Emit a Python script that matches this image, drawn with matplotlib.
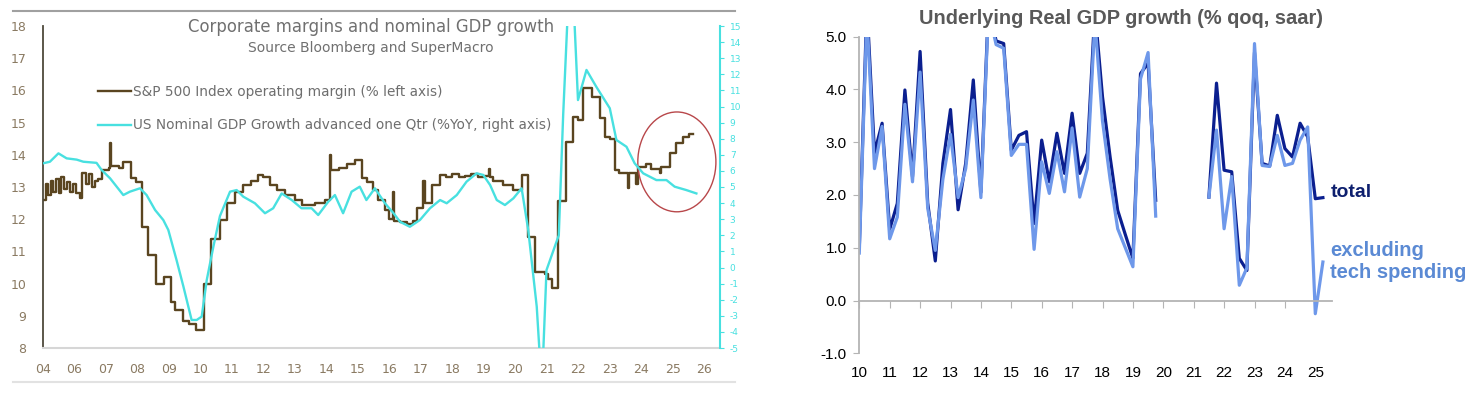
import numpy as np
import matplotlib
matplotlib.use('Agg')
import matplotlib.pyplot as plt
from matplotlib.patches import Ellipse
from matplotlib.lines import Line2D

plt.rcParams['axes.unicode_minus'] = False

# Left chart: S&P 500 operating margin (left axis) vs nominal GDP growth (right axis)
year_labels = ['04', '06', '07', '08', '09', '10', '11', '12', '13', '14', '15',
               '16', '17', '18', '19', '20', '21', '22', '23', '24', '25', '26']

margin_t = [0.00, 0.08, 0.16, 0.25, 0.33, 0.42, 0.50, 0.58, 0.67, 0.75, 0.85, 0.95,
            1.05, 1.17, 1.25, 1.35, 1.45, 1.55, 1.65, 1.75, 1.86, 2.10, 2.13, 2.17,
            2.40, 2.55, 2.81, 2.95, 3.13, 3.35, 3.58, 3.85, 4.08, 4.20, 4.45, 4.65,
            4.85, 5.10, 5.35, 5.62, 5.85, 6.10, 6.36, 6.60, 6.84, 7.00, 7.20, 7.42,
            7.68, 8.00, 8.21, 8.63, 8.95, 9.11, 9.14, 9.40, 9.65, 9.90, 10.12, 10.30,
            10.49, 10.65, 10.86, 11.00, 11.12, 11.16, 11.33, 11.55, 11.76, 11.87, 12.08,
            12.12, 12.34, 12.60, 12.80, 13.00, 13.20, 13.40, 13.60, 13.80, 14.00, 14.15,
            14.20, 14.30, 14.60, 14.94, 15.20, 15.41, 15.62, 15.94, 16.05, 16.15, 16.35,
            16.62, 16.83, 17.00, 17.15, 17.42, 17.68, 17.84, 18.00, 18.16, 18.30, 18.58,
            18.62, 18.84, 18.88, 19.16, 19.30, 19.58, 19.64, 19.90, 20.11, 20.33, 20.50,
            20.64]
margin_pct = [12.6, 13.1, 12.75, 13.2, 12.85, 13.25, 12.8, 13.3, 12.95, 13.15, 12.85, 13.1,
              12.8, 12.65, 13.45, 13.1, 13.4, 13.0, 13.2, 13.25, 13.53, 13.6, 14.36, 13.65,
              13.6, 13.78, 13.27, 13.15, 11.77, 10.89, 10.0, 10.2, 9.44, 9.18, 8.85, 8.75,
              8.56, 10.0, 11.4, 11.97, 12.5, 12.85, 13.06, 13.2, 13.37, 13.3, 13.06, 12.9,
              12.75, 12.6, 12.44, 12.5, 12.6, 14.0, 13.53, 13.6, 13.7, 13.84, 13.27, 13.15,
              12.9, 12.6, 12.3, 12.0, 12.85, 11.95, 11.9, 11.85, 11.95, 12.34, 13.2,
              12.5, 13.06, 13.37, 13.3, 13.4, 13.3, 13.35, 13.4, 13.3, 13.35, 13.56,
              13.3, 13.2, 13.06, 12.9, 13.37, 11.46, 10.37, 10.3, 10.15, 9.87, 12.55,
              14.4, 15.18, 15.07, 16.06, 15.8, 15.14, 14.56, 14.5, 13.53, 13.43, 12.97,
              13.43, 13.1, 13.63, 13.7, 13.55, 13.43, 13.63, 14.05, 14.37, 14.56, 14.65,
              14.65]

# nominal GDP growth advanced one quarter (% YoY)
gdp_t = [0.0, 0.22, 0.49, 0.75, 1.07, 1.28, 1.7, 1.86, 2.13, 2.55, 2.76, 3.08, 3.29,
         3.56, 3.82, 3.98, 4.24, 4.46, 4.72, 4.88, 5.04, 5.2, 5.41, 5.62, 5.94, 6.15,
         6.36, 6.73, 7.05, 7.31, 7.58, 7.9, 8.21, 8.53, 8.74, 9.06, 9.27, 9.53, 9.8,
         10.06, 10.27, 10.54, 10.86, 11.12, 11.34, 11.65, 11.97, 12.29, 12.61, 12.82,
         13.14, 13.45, 13.77, 13.98, 14.2, 14.41, 14.67, 14.94, 15.2, 15.41, 15.68,
         15.78, 15.88, 15.99, 16.38, 16.52, 16.68, 16.85, 16.99, 17.26, 17.57, 18.0,
         18.21, 18.53, 18.79, 19.06, 19.48, 19.8, 20.06, 20.43, 20.75]
gdp_yoy = [6.47, 6.57, 7.09, 6.78, 6.7, 6.57, 6.5, 6.06, 5.54, 4.5, 4.71, 4.92, 4.5,
           3.57, 2.95, 2.33, 0.47, -1.19, -3.26, -3.26, -3.05, -0.78, 1.29, 3.2, 4.71, 4.81,
           4.4, 3.99, 3.37, 3.68, 4.6, 4.19, 3.68, 3.68, 3.26, 4.09, 4.5, 3.37, 4.71,
           5.02, 4.19, 4.92, 3.99, 3.4, 2.84, 2.53, 2.95, 3.68, 4.19, 3.99,
           4.5, 5.33, 5.85, 5.75, 5.12, 4.19, 3.88, 4.3, 4.92, 2.33, -2.43,
           -5.6, -5.6, -0.16, 2.0, 9.5, 16.5, 16.5, 10.4, 12.27, 11.23, 9.89,
           7.92, 7.5, 6.47, 5.85, 5.43, 5.43, 5.02, 4.81, 4.6]

# Right chart: underlying real GDP growth (% qoq saar), 2010Q1 to 2025Q2
quarters = np.arange(2010, 2025.26, 0.25)
nan = np.nan
gdp_total = [1.0, 5.6, 2.8, 3.36, 1.35, 1.84, 3.99, 2.35, 4.72, 1.85, 0.75, 2.6, 3.62,
             1.72, 2.6, 4.18, 2.05, 5.6, 4.92, 4.87, 2.85, 3.13, 3.2, 1.46, 3.04, 2.25,
             3.17, 2.41, 3.55, 2.41, 2.79, 5.5, 3.86, 2.72, 1.71, 1.25, 0.8, 4.3, 4.5,
             1.9, nan, nan, nan, nan, nan, nan, 1.96, 4.12, 2.47, 2.44, 0.8, 0.57, 4.7,
             2.6, 2.55, 3.51, 2.88, 2.72, 3.36, 3.1, 1.93, 1.95]
gdp_ex_tech = [0.9, 5.4, 2.5, 3.3, 1.17, 1.58, 3.72, 2.25, 4.33, 1.75, 0.95, 2.3, 3.15,
               1.95, 2.5, 3.8, 1.95, 5.5, 4.85, 4.78, 2.75, 2.96, 2.96, 0.97, 2.63, 2.03,
               2.82, 2.06, 3.27, 1.96, 2.5, 5.3, 3.4, 2.3, 1.36, 1.0, 0.64, 4.2, 4.7,
               1.6, nan, nan, nan, nan, nan, nan, 1.96, 3.23, 1.36, 2.35, 0.29, 0.62, 4.87,
               2.56, 2.54, 3.13, 2.56, 2.6, 3.04, 3.29, -0.25, 0.73]
year_ticks = list(range(2010, 2026))

W, H = 1475, 395
fig = plt.figure(figsize=(W / 100, H / 100), dpi=100)

brown = '#5a4520'
cyan = '#48e0e0'
tick_brown = '#8a7a62'
grey_text = '#6e6e6e'

# ---------- left chart ----------
ax = fig.add_axes([43 / W, 47 / H, 677 / W, 322 / H])
ax.step(margin_t, margin_pct, where='post', color=brown, lw=1.7, label='S&P 500 Index operating margin (% left axis)')
ax.set_xlim(0, 21.5)
ax.set_ylim(8, 18)
ax.set_yticks(range(8, 19))
ax.set_xticks(range(len(year_labels)))
ax.set_xticklabels(year_labels)
ax.tick_params(axis='y', length=0, labelsize=9, labelcolor=tick_brown, pad=12)
ax.tick_params(axis='x', length=0, labelsize=9, labelcolor=tick_brown, pad=11)
for s in ['top', 'right']:
    ax.spines[s].set_visible(False)
ax.spines['left'].set_color('#4e4a3c')
ax.spines['left'].set_linewidth(1.3)
ax.spines['bottom'].set_color('#d6d6d6')
ax.spines['bottom'].set_linewidth(1.5)

axr = ax.twinx()
axr.plot(gdp_t, gdp_yoy, color=cyan, lw=1.7, label='US Nominal GDP Growth advanced one Qtr (%YoY, right axis)')
axr.set_ylim(-5, 15)
axr.set_yticks(range(-5, 16))
axr.tick_params(axis='y', length=3, color=cyan, labelsize=6.5, labelcolor=cyan, pad=4)
for s in ['top', 'left', 'bottom']:
    axr.spines[s].set_visible(False)
axr.spines['right'].set_color(cyan)
axr.spines['right'].set_linewidth(1.5)

# red circle round the recent margin rise
ax.add_patch(Ellipse((20.13, 13.78), 2.48, 3.1, fill=False, edgecolor='#b8474a', lw=1.0, zorder=5))

h1, l1 = ax.get_legend_handles_labels()
h2, l2 = axr.get_legend_handles_labels()
axr.legend(h1 + h2, l1 + l2, loc='upper left', bbox_to_anchor=(0.081, 0.818),
           frameon=False, fontsize=9.8, labelcolor=grey_text, handlelength=2.4,
           handletextpad=0.15, labelspacing=1.45, borderpad=0, borderaxespad=0)

fig.text(371 / W, 1 - 27 / H, 'Corporate margins and nominal GDP growth', ha='center', va='center',
         fontsize=11.9, color='#707070')
fig.text(371 / W, 1 - 48 / H, 'Source Bloomberg and SuperMacro', ha='center', va='center',
         fontsize=10, color='#707070')

# frame lines of the left picture
fig.add_artist(Line2D([13 / W, 735 / W], [1 - 11 / H] * 2, color='#a0a0a0', lw=1.5))
fig.add_artist(Line2D([13 / W, 735 / W], [1 - 382 / H] * 2, color='#e2e2e2', lw=1.5))

# ---------- right chart ----------
ax2 = fig.add_axes([859.3 / W, 41.7 / H, 472.4 / W, 316.6 / H])
ax2.plot(quarters, gdp_total, color='#0b1f8f', lw=2.3)
ax2.plot(quarters, gdp_ex_tech, color='#6e98ea', lw=2.3)
ax2.set_xlim(2010, 2010 + 472.4 / 30.4)
ax2.set_ylim(-1, 5)
ax2.set_yticks(range(-1, 6))
ax2.set_yticklabels(['%.1f' % v for v in range(-1, 6)])
ax2.tick_params(axis='y', length=4, color='#b4b4b4', labelsize=11, pad=5)
for s in ['top', 'right']:
    ax2.spines[s].set_visible(False)
ax2.spines['left'].set_color('#b4b4b4')
ax2.spines['left'].set_linewidth(1.3)
ax2.spines['bottom'].set_position(('data', 0))
ax2.spines['bottom'].set_color('#b4b4b4')
ax2.spines['bottom'].set_linewidth(1.3)
ax2.set_xticks(year_ticks)
ax2.tick_params(axis='x', length=5, color='#b4b4b4', labelbottom=False)

sec = ax2.secondary_xaxis(0.0)
sec.set_xticks(year_ticks)
sec.set_xticklabels([str(y)[2:] for y in year_ticks])
sec.tick_params(length=0, labelsize=11, pad=9)
sec.spines['bottom'].set_visible(False)

for t in ax2.get_yticklabels() + sec.get_xticklabels():
    t.set_family('Liberation Sans')

fig.text(1121 / W, 1 - 18 / H, 'Underlying Real GDP growth (% qoq, saar)', ha='center', va='center',
         fontsize=14.4, fontweight='bold', color='#595959', family='Liberation Sans')
ax2.text(0.998, 0.507, 'total', transform=ax2.transAxes, ha='left', va='center',
         fontsize=14, fontweight='bold', color='#0d1f6e', family='Liberation Sans')
ax2.text(0.996, 0.29, 'excluding\ntech spending', transform=ax2.transAxes, ha='left',
         va='center', fontsize=14.5, fontweight='bold', color='#5b8ad4', family='Liberation Sans',
         linespacing=1.2)

fig.savefig('out.png', dpi=100)
